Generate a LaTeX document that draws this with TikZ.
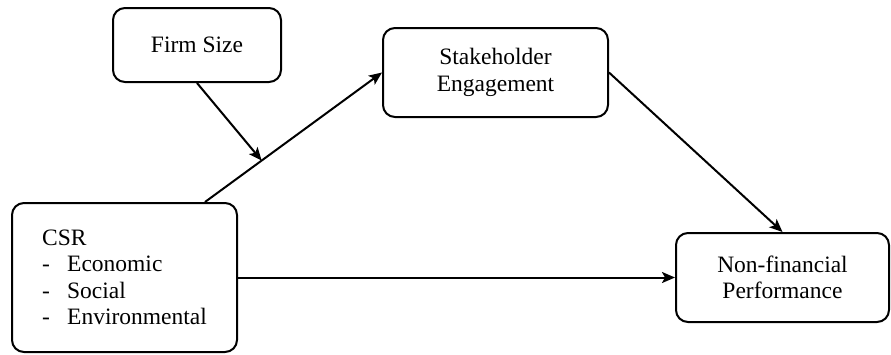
\documentclass[tikz,border=0pt]{standalone}
\usepackage{fontspec}
\setmainfont{Liberation Serif}
\newfontfamily\boxfont{Liberation Serif}
\usetikzlibrary{arrows.meta,calc}
\begin{document}
\begin{tikzpicture}[x=1pt,y=-1pt,
  box/.style={draw,line width=2pt,rounded corners=12pt,inner sep=0pt,
    font=\boxfont\fontsize{23.5}{26.5}\selectfont,align=center},
  conn/.style={line width=2pt,-{Stealth[length=13pt,width=11pt,inset=3pt]}}]
\useasboundingbox (0,0) rectangle (891,354);
\node[box,minimum width=168pt,minimum height=74pt] (firm) at (197,45) {Firm Size};
\node[box,minimum width=225pt,minimum height=89pt] (se) at (495.5,72.5) {Stakeholder\\Engagement};
\node[box,minimum width=225pt,minimum height=149pt,align=left] (csr) at (124.5,277.5)
  {CSR\\\makebox[25pt][l]{-}Economic\\\makebox[25pt][l]{-}Social\\\makebox[25pt][l]{-}Environmental};
\node[box,minimum width=213pt,minimum height=89pt] (nf) at (782.5,277.5) {Non-financial\\Performance};
\coordinate (csrtop) at ($(csr.north)+(80.5,0)$);
\draw[conn] (csrtop) -- coordinate[pos=0.32] (mid) (se.west);
\draw[conn] (firm.south) -- (mid);
\draw[conn] (se.east) -- (nf.north);
\draw[conn] (csr.east) -- (nf.west);
\end{tikzpicture}
\end{document}
